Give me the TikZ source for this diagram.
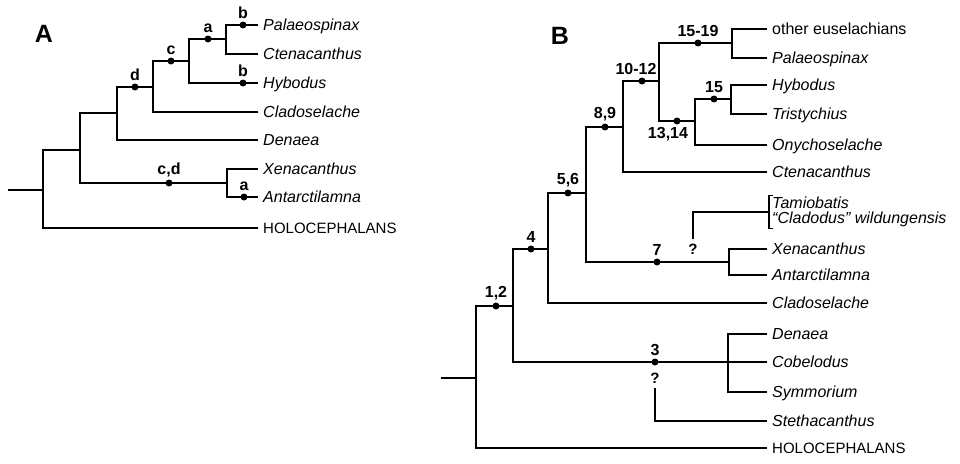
\documentclass[tikz,border=0pt]{standalone}
\usepackage{fontspec}
\setmainfont{Liberation Sans}
\usetikzlibrary{positioning}

\begin{document}
\begin{tikzpicture}[x=1pt, y=-1pt,
  branch/.style={line width=2pt},
  bracket/.style={line width=1.3pt},
  apo/.style={circle, fill=black, inner sep=0pt, minimum size=7pt},
  label distance=2.5pt,
  every label/.style={font=\fontsize{16}{16}\selectfont\bfseries, inner sep=0pt},
  taxon/.style={anchor=west, inner xsep=5pt, inner ysep=0pt, text height=11.5pt,
                text depth=0pt, font=\fontsize{16}{18}\selectfont\itshape},
  group/.style={taxon, font=\fontsize{16}{18}\selectfont},
  query/.style={inner xsep=0pt, inner ysep=5pt, font=\fontsize{15}{15}\selectfont\bfseries},
  panel/.style={inner sep=0pt, font=\fontsize{25}{25}\selectfont\bfseries},
]
\useasboundingbox (0,0) rectangle (960,463);

% A
\node[panel] (panA) at (44,34) {A};
\coordinate (stubA) at (8,190);
\coordinate (rootA) at (43,190);
\coordinate (nA1) at (80,150);
\coordinate (nA2) at (117,113);
\coordinate (nA3) at (153,87);
\coordinate (nA4) at (189,61);
\coordinate (nA5) at (226,39);
\coordinate (nXA) at (227,183);
\node[taxon] (palA) at (258,25)  {Palaeospinax};
\node[taxon] (cteA) at (258,54)  {Ctenacanthus};
\node[taxon] (hybA) at (258,83)  {Hybodus};
\node[taxon] (claA) at (258,112) {Cladoselache};
\node[taxon] (denA) at (258,140) {Denaea};
\node[taxon] (xenA) at (258,169) {Xenacanthus};
\node[taxon] (antA) at (258,197) {Antarctilamna};
\node[group] (holA) at (258,228) {\fontsize{15}{18}\selectfont HOLOCEPHALANS};
\draw[branch] (stubA) -- (rootA) |- (nA1);
\draw[branch] (rootA) |- (holA.west);
\draw[branch] (nA1) |- (nA2);
\draw[branch] (nA1) |- (nXA);
\draw[branch] (nXA) |- (xenA.west);
\draw[branch] (nXA) |- (antA.west);
\draw[branch] (nA2) |- (nA3);
\draw[branch] (nA2) |- (denA.west);
\draw[branch] (nA3) |- (nA4);
\draw[branch] (nA3) |- (claA.west);
\draw[branch] (nA4) |- (nA5);
\draw[branch] (nA4) |- (hybA.west);
\draw[branch] (nA5) |- (palA.west);
\draw[branch] (nA5) |- (cteA.west);
\node[apo, label=above:{c,d}] (cdA) at (169,183) {};
\node[apo, label=above:a] (aA2) at (244,197) {};
\node[apo, label=above:d] (dA) at (135,87) {};
\node[apo, label=above:c] (cA) at (171,61) {};
\node[apo, label=above:a] (aA1) at (208,39) {};
\node[apo, label=above:b] (bA1) at (243,25) {};
\node[apo, label=above:b] (bA2) at (243,83) {};

% B
\node[panel] (panB) at (560,36) {B};
\coordinate (stubB) at (441,378);
\coordinate (rootB) at (476,378);
\coordinate (n12) at (513,306);
\coordinate (n4) at (548,249);
\coordinate (n56) at (586,193);
\coordinate (n89) at (623,127);
\coordinate (n1012) at (659,81);
\coordinate (n1519) at (732,43);
\coordinate (n1314) at (695,121);
\coordinate (n15) at (731,99);
\coordinate (n7) at (729,262);
\coordinate (n3) at (728,362);
\node[group] (othB) at (767,29)  {other euselachians};
\node[taxon] (palB) at (767,58)  {Palaeospinax};
\node[taxon] (hybB) at (767,85)  {Hybodus};
\node[taxon] (triB) at (767,114) {Tristychius};
\node[taxon] (onyB) at (767,145) {Onychoselache};
\node[taxon] (cteB) at (767,172) {Ctenacanthus};
\node[anchor=west, align=left, inner xsep=3pt, inner ysep=1pt,
      font=\fontsize{16}{15}\selectfont\itshape] (tam) at (769,212)
      {Tamiobatis\\“Cladodus” wildungensis};
\node[taxon] (xenB) at (767,249) {Xenacanthus};
\node[taxon] (antB) at (767,275) {Antarctilamna};
\node[taxon] (claB) at (767,303) {Cladoselache};
\node[taxon] (denB) at (767,334) {Denaea};
\node[taxon] (cobB) at (767,362) {Cobelodus};
\node[taxon] (symB) at (767,392) {Symmorium};
\node[taxon] (steB) at (767,421) {Stethacanthus};
\node[group] (holB) at (767,448) {\fontsize{15}{18}\selectfont HOLOCEPHALANS};
\node[query] (qm7) at (693,249) {?};
\node[query] (qm3) at (655,378) {?};
\draw[branch] (stubB) -- (rootB) |- (n12);
\draw[branch] (rootB) |- (holB.west);
\draw[branch] (n12) |- (n4);
\draw[branch] (n12) |- (n3) -- (cobB.west);
\draw[branch] (n3) |- (denB.west);
\draw[branch] (n3) |- (symB.west);
\draw[branch] (qm3.south) |- (steB.west);
\draw[branch] (n4) |- (n56);
\draw[branch] (n4) |- (claB.west);
\draw[branch] (n56) |- (n89);
\draw[branch] (n56) |- (n7);
\draw[branch] (n7) |- (xenB.west);
\draw[branch] (n7) |- (antB.west);
\draw[branch] (qm7.north) |- (tam.west);
\draw[bracket] ([xshift=4pt]tam.north west) -- (tam.north west)
  -- (tam.south west) -- ([xshift=4pt]tam.south west);
\draw[branch] (n89) |- (n1012);
\draw[branch] (n89) |- (cteB.west);
\draw[branch] (n1012) |- (n1519);
\draw[branch] (n1012) |- (n1314);
\draw[branch] (n1519) |- (othB.west);
\draw[branch] (n1519) |- (palB.west);
\draw[branch] (n1314) |- (n15);
\draw[branch] (n1314) |- (onyB.west);
\draw[branch] (n15) |- (hybB.west);
\draw[branch] (n15) |- (triB.west);
\node[apo, label=above:{1,2}] (d12) at (496,306) {};
\node[apo, label=above:4] (d4) at (531,249) {};
\node[apo, label=above:{5,6}] (d56) at (568,193) {};
\node[apo, label=above:{8,9}] (d89) at (605,127) {};
\node[apo, label={[xshift=-6pt]above:{10-12}}] (d1012) at (642,81) {};
\node[apo, label=above:{15-19}] (d1519) at (698,43) {};
\node[apo, label={[xshift=-9pt]below:{13,14}}] (d1314) at (677,121) {};
\node[apo, label=above:15] (d15) at (714,99) {};
\node[apo, label=above:7] (d7) at (657,262) {};
\node[apo, label=above:3] (d3) at (655,362) {};
\end{tikzpicture}
\end{document}
